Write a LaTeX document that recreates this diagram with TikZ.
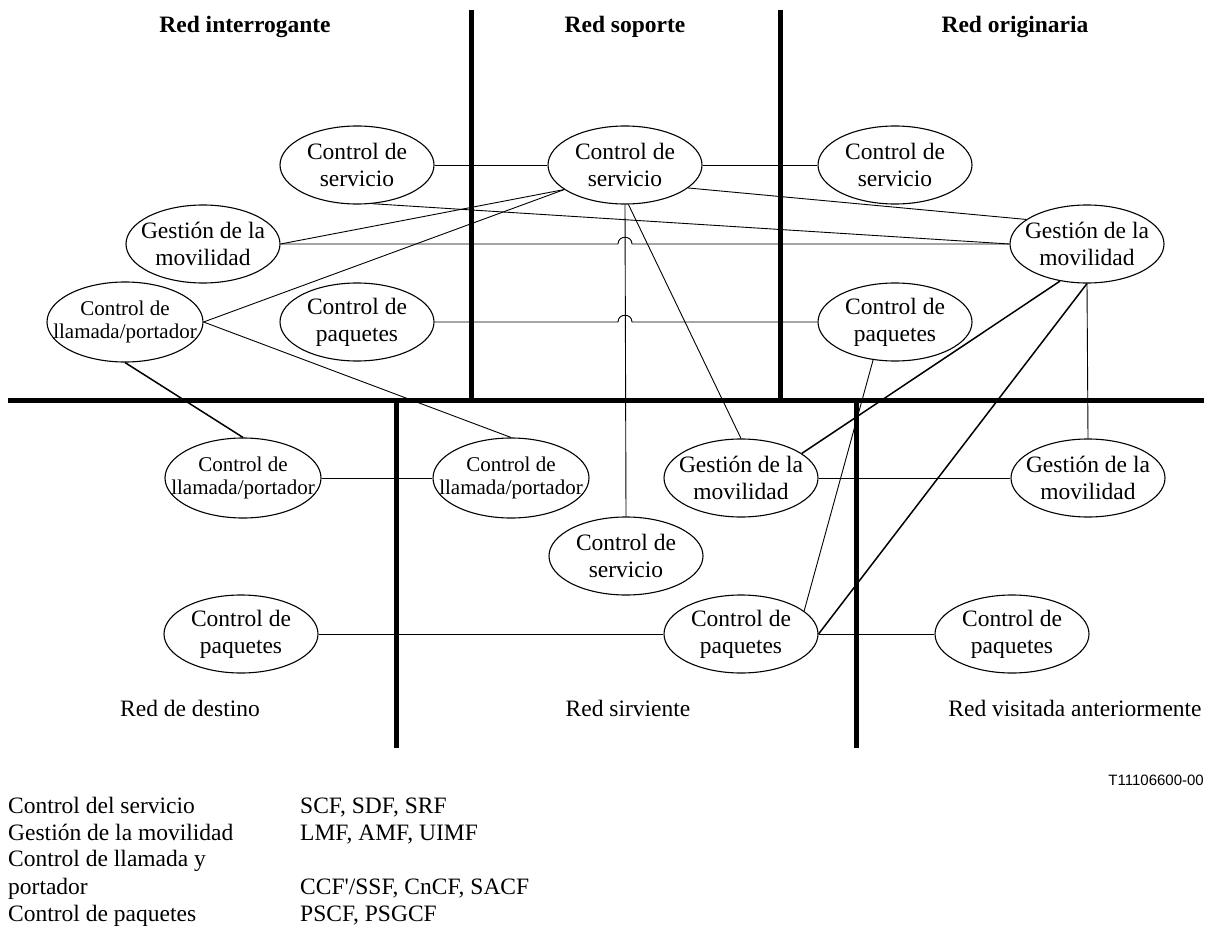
\documentclass[tikz,border=0pt]{standalone}
\usepackage{fontspec}
\setmainfont{Liberation Serif}[Ligatures=TeXOff]
\setsansfont{Liberation Sans}
\usetikzlibrary{shapes.geometric}

\begin{document}
\begin{tikzpicture}[x=1pt,y=-1pt,
  fn/.style={ellipse, draw, line width=1.1pt, inner ysep=0pt, inner xsep=-16pt,
    minimum width=154pt, minimum height=78pt, align=center,
    font=\fontsize{23.5}{27}\selectfont},
  fs/.style={fn, inner xsep=-22pt, minimum width=156pt, minimum height=80pt,
    font=\fontsize{21}{23.5}\selectfont},
  link/.style={line width=0.9pt},
  linkb/.style={line width=1.5pt},
  sep/.style={line width=5pt},
  hdr/.style={font=\fontsize{23.5}{27}\selectfont\bfseries},
  lbl/.style={font=\fontsize{23.5}{27}\selectfont},
  leg/.style={font=\fontsize{23.5}{27}\selectfont, anchor=base west, inner sep=0pt},
]
\useasboundingbox (0,0) rectangle (1216,928);

% network separators
\draw[sep] (471,10) -- (471,400);
\draw[sep] (780,10) -- (780,400);
\draw[sep] (8,400) -- (1204,400);
\draw[sep] (396,400) -- (396,748);
\draw[sep] (856,400) -- (856,748);

% headings of the upper networks
\node[hdr] (h1) at (245,27) {Red interrogante};
\node[hdr] (h2) at (625,27) {Red soporte};
\node[hdr] (h3) at (1015,27) {Red originaria};

% upper functional entities
\node[fn] (CSl) at (357,165) {Control de\\servicio};
\node[fn] (CSc) at (625,165) {Control de\\servicio};
\node[fn] (CSr) at (895,165) {Control de\\servicio};
\node[fn] (GMl) at (203,244) {Gesti\'on de la\\movilidad};
\node[fn] (GMr) at (1087,244) {Gesti\'on de la\\movilidad};
\node[fs] (CLPl) at (125,322) {Control de\\llamada/portador};
\node[fn] (CPl) at (357,322) {Control de\\paquetes};
\node[fn] (CPr) at (895,322) {Control de\\paquetes};

% lower functional entities
\node[fs] (CLPa) at (243,478) {Control de\\llamada/portador};
\node[fs] (CLPb) at (511,478) {Control de\\llamada/portador};
\node[fn] (GMa) at (741,478) {Gesti\'on de la\\movilidad};
\node[fn] (GMb) at (1088,478) {Gesti\'on de la\\movilidad};
\node[fn] (CSb) at (626,556) {Control de\\servicio};
\node[fn] (CPa) at (241,634) {Control de\\paquetes};
\node[fn] (CPb) at (741,634) {Control de\\paquetes};
\node[fn] (CPc) at (1012,634) {Control de\\paquetes};

% crossing points where horizontal links hop over the vertical link
\path (CSc.south |- GMl.east) coordinate (x1);
\path (CSc.south |- CPl.east) coordinate (x2);

% links
\draw[link] (CSl.east) -- (CSc.west);
\draw[link] (CSc.east) -- (CSr.west);
\draw[link] (CSl.-68) -- (GMr.west);
\draw[link] (CSc.-20) -- (GMr.158);
\draw[link] (GMl.east) -- (CSc.-158);
\draw[link] (CLPl.east) -- (CSc.-158);
\draw[link] (GMl.east) -- ([xshift=-7pt]x1)
  .. controls ([xshift=-7pt,yshift=9pt]x1) and ([xshift=7pt,yshift=9pt]x1) .. ([xshift=7pt]x1)
  -- (GMr.west);
\draw[link] (CPl.east) -- ([xshift=-7pt]x2)
  .. controls ([xshift=-7pt,yshift=9pt]x2) and ([xshift=7pt,yshift=9pt]x2) .. ([xshift=7pt]x2)
  -- (CPr.west);
\draw[link] (CSc.south) -- (CSb.north);
\draw[link] (CSc.-85) -- (GMa.north);
\draw[link] (CLPl.east) -- (CLPb.north);
\draw[linkb] (CLPl.south) -- (CLPa.north);
\draw[link] (CLPa.east) -- (CLPb.west);
\draw[link] (GMa.east) -- (GMb.west);
\draw[linkb] (GMa.22) -- (GMr.-126);
\draw[link] (CPr.-120) -- (CPb.20);
\draw[linkb] (GMr.south) -- (CPb.east);
\draw[link] (GMr.south) -- (GMb.north);
\draw[link] (CPa.east) -- (CPb.west);
\draw[link] (CPb.east) -- (CPc.west);

% names of the lower networks
\node[lbl] (n1) at (190,708) {Red de destino};
\node[lbl] (n2) at (628,708) {Red sirviente};
\node[lbl] (n3) at (1075,708) {Red visitada anteriormente};

\node[font=\sffamily\fontsize{15}{18}\selectfont, anchor=east, inner sep=0pt] (ref) at (1204,780) {T11106600-00};

% legend
\node[leg] (k1) at (8,813) {Control del servicio};
\node[leg] (v1) at (300,813) {SCF, SDF, SRF};
\node[leg] (k2) at (8,840) {Gesti\'on de la movilidad};
\node[leg] (v2) at (300,840) {LMF, AMF, UIMF};
\node[leg] (k3) at (8,866) {Control de llamada y};
\node[leg] (k4) at (8,894) {portador};
\node[leg] (v4) at (300,894) {CCF'/SSF, CnCF, SACF};
\node[leg] (k5) at (8,921) {Control de paquetes};
\node[leg] (v5) at (300,921) {PSCF, PSGCF};
\end{tikzpicture}
\end{document}
